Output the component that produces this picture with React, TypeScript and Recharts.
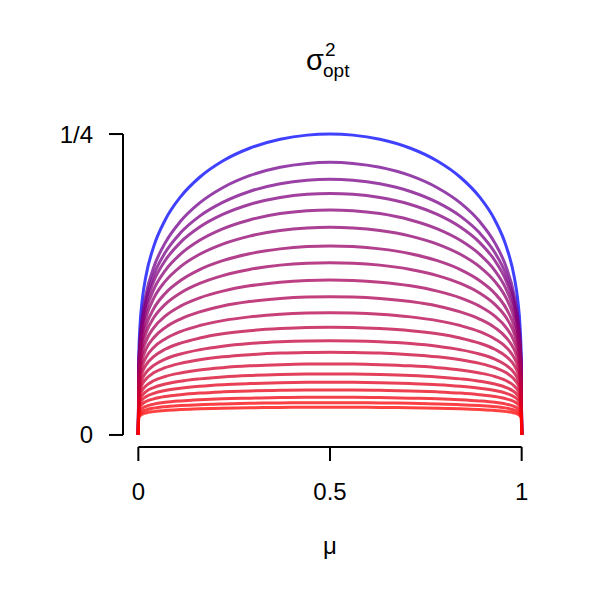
import { LineChart, Line, XAxis, YAxis, ReferenceLine } from "recharts";

// mu positions for the left half of every curve (the curves are symmetric about 0.5)
const muHalf = [0, 0.001, 0.004, 0.01, 0.02, 0.04, 0.07, 0.11, 0.16, 0.22, 0.29, 0.37, 0.44, 0.5];

// sigma^2_opt, top (blue) curve first, one row per curve
const curves: number[][] = [
  [0, 0.0629, 0.0888, 0.1115, 0.1323, 0.1565, 0.1786, 0.1978, 0.2141, 0.2276, 0.2382, 0.2457, 0.2491, 0.25],
  [0, 0.0539, 0.0772, 0.0978, 0.1169, 0.1392, 0.1596, 0.1775, 0.1928, 0.2054, 0.2154, 0.2224, 0.2256, 0.2265],
  [0, 0.0531, 0.0751, 0.0944, 0.1121, 0.1327, 0.1515, 0.1679, 0.1818, 0.1932, 0.2023, 0.2087, 0.2116, 0.2124],
  [0, 0.0527, 0.0737, 0.0919, 0.1084, 0.1275, 0.1449, 0.16, 0.1727, 0.1832, 0.1915, 0.1973, 0.2, 0.2007],
  [0, 0.0516, 0.0712, 0.0881, 0.1033, 0.1208, 0.1366, 0.1502, 0.1617, 0.1712, 0.1786, 0.1839, 0.1863, 0.1869],
  [0, 0.0501, 0.0683, 0.0837, 0.0975, 0.1134, 0.1276, 0.1398, 0.1501, 0.1586, 0.1652, 0.1698, 0.1719, 0.1725],
  [0, 0.0479, 0.0645, 0.0784, 0.0908, 0.1049, 0.1176, 0.1283, 0.1374, 0.1448, 0.1506, 0.1546, 0.1565, 0.157],
  [0, 0.0459, 0.061, 0.0736, 0.0847, 0.0973, 0.1085, 0.118, 0.1259, 0.1324, 0.1375, 0.1411, 0.1427, 0.1431],
  [0, 0.0434, 0.0569, 0.0681, 0.0779, 0.089, 0.0987, 0.107, 0.1139, 0.1195, 0.1239, 0.1269, 0.1283, 0.1287],
  [0, 0.0407, 0.0528, 0.0626, 0.0712, 0.0808, 0.0892, 0.0963, 0.1022, 0.1071, 0.1108, 0.1134, 0.1146, 0.1149],
  [0, 0.0378, 0.0484, 0.057, 0.0644, 0.0727, 0.0798, 0.0859, 0.0909, 0.095, 0.0981, 0.1003, 0.1013, 0.1016],
  [0, 0.035, 0.0443, 0.0517, 0.0581, 0.0651, 0.0712, 0.0763, 0.0805, 0.084, 0.0866, 0.0884, 0.0893, 0.0895],
  [0, 0.032, 0.04, 0.0464, 0.0518, 0.0578, 0.063, 0.0673, 0.0708, 0.0737, 0.0759, 0.0774, 0.0781, 0.0783],
  [0, 0.0295, 0.0365, 0.0419, 0.0465, 0.0516, 0.0559, 0.0595, 0.0625, 0.0649, 0.0667, 0.068, 0.0685, 0.0687],
  [0, 0.0266, 0.0325, 0.0371, 0.0409, 0.045, 0.0486, 0.0515, 0.054, 0.0559, 0.0574, 0.0584, 0.0589, 0.059],
  [0, 0.0241, 0.029, 0.0328, 0.036, 0.0394, 0.0423, 0.0447, 0.0466, 0.0482, 0.0494, 0.0502, 0.0506, 0.0507],
  [0, 0.0218, 0.026, 0.0292, 0.0318, 0.0346, 0.037, 0.0389, 0.0405, 0.0418, 0.0427, 0.0434, 0.0437, 0.0438],
  [0, 0.0196, 0.023, 0.0256, 0.0278, 0.03, 0.032, 0.0335, 0.0348, 0.0358, 0.0366, 0.0371, 0.0373, 0.0374],
  [0, 0.0172, 0.02, 0.0221, 0.0238, 0.0256, 0.0271, 0.0283, 0.0293, 0.0301, 0.0306, 0.0311, 0.0313, 0.0313],
  [0, 0.0155, 0.0178, 0.0195, 0.0208, 0.0223, 0.0235, 0.0244, 0.0252, 0.0258, 0.0263, 0.0266, 0.0268, 0.0268],
  [0, 0.014, 0.0158, 0.0172, 0.0183, 0.0194, 0.0204, 0.0211, 0.0217, 0.0222, 0.0226, 0.0229, 0.023, 0.023],
];

const xTicks = [0, 0.5, 1];
const xTickLabels = ["0", "0.5", "1"];
const yTicks = [0, 0.25];
const yTickLabels = ["0", "1/4"];

// mirror the half curves onto [0.5, 1]
const mu = [...muHalf, ...muHalf.slice(0, -1).reverse().map((m) => 1 - m)];
const rows = mu.map((m, i) => {
  const row: { [key: string]: number } = { mu: m };
  curves.forEach((c, k) => {
    const j = i < muHalf.length ? i : mu.length - 1 - i;
    row[`c${k}`] = c[j];
  });
  return row;
});

const font = '"Liberation Sans", Arial, sans-serif';

function colorOf(k: number) {
  const t = k === 0 ? 0 : 0.45 + (0.55 * (k - 1)) / (curves.length - 2);
  return `rgb(${Math.round(255 * t)},0,${Math.round(255 * (1 - t))})`;
}

export default function App() {
  return (
    <div style={{ position: "absolute", left: 0, top: 0, width: 600, height: 600, background: "#fff" }}>
      <LineChart
        width={600}
        height={600}
        data={rows}
        margin={{ top: 122, right: 63, bottom: 0, left: 0 }}
      >
        <XAxis
          dataKey="mu"
          type="number"
          domain={[-0.04, 1.04]}
          ticks={xTicks}
          tickFormatter={(v: number) => xTickLabels[xTicks.indexOf(v)]}
          axisLine={false}
          tickLine={{ stroke: "#000", strokeWidth: 2 }}
          tickSize={14}
          tickMargin={22}
          height={153}
          tick={{ fill: "#000", fontSize: 24, fontFamily: font }}
        />
        <YAxis
          type="number"
          domain={[-0.01, 0.26]}
          ticks={yTicks}
          tickFormatter={(v: number) => yTickLabels[yTicks.indexOf(v)]}
          axisLine={false}
          tickLine={{ stroke: "#000", strokeWidth: 2 }}
          tickSize={14}
          tickMargin={16}
          width={123}
          tick={{ fill: "#000", fontSize: 24, fontFamily: font }}
        />
        <ReferenceLine
          segment={[{ x: -0.04, y: 0 }, { x: -0.04, y: 0.25 }]}
          stroke="#000"
          strokeWidth={2}
        />
        <ReferenceLine
          segment={[{ x: 0, y: -0.01 }, { x: 1, y: -0.01 }]}
          stroke="#000"
          strokeWidth={2}
        />
        {curves.map((_, k) => (
          <Line
            key={k}
            dataKey={`c${k}`}
            type="monotone"
            stroke={colorOf(k)}
            strokeOpacity={0.75}
            strokeWidth={3}
            dot={false}
            isAnimationActive={false}
          />
        ))}
      </LineChart>
      <svg
        width={600}
        height={600}
        style={{ position: "absolute", left: 0, top: 0, pointerEvents: "none" }}
      >
        <text x={306} y={70} fontSize={29} fontFamily={font} fill="#000">
          σ
        </text>
        <text x={325} y={56} fontSize={19} fontFamily={font} fill="#000">
          2
        </text>
        <text x={323} y={77} fontSize={19} fontFamily={font} fill="#000">
          opt
        </text>
        <text x={330} y={554} fontSize={24} fontFamily={font} fill="#000" textAnchor="middle">
          μ
        </text>
      </svg>
    </div>
  );
}
